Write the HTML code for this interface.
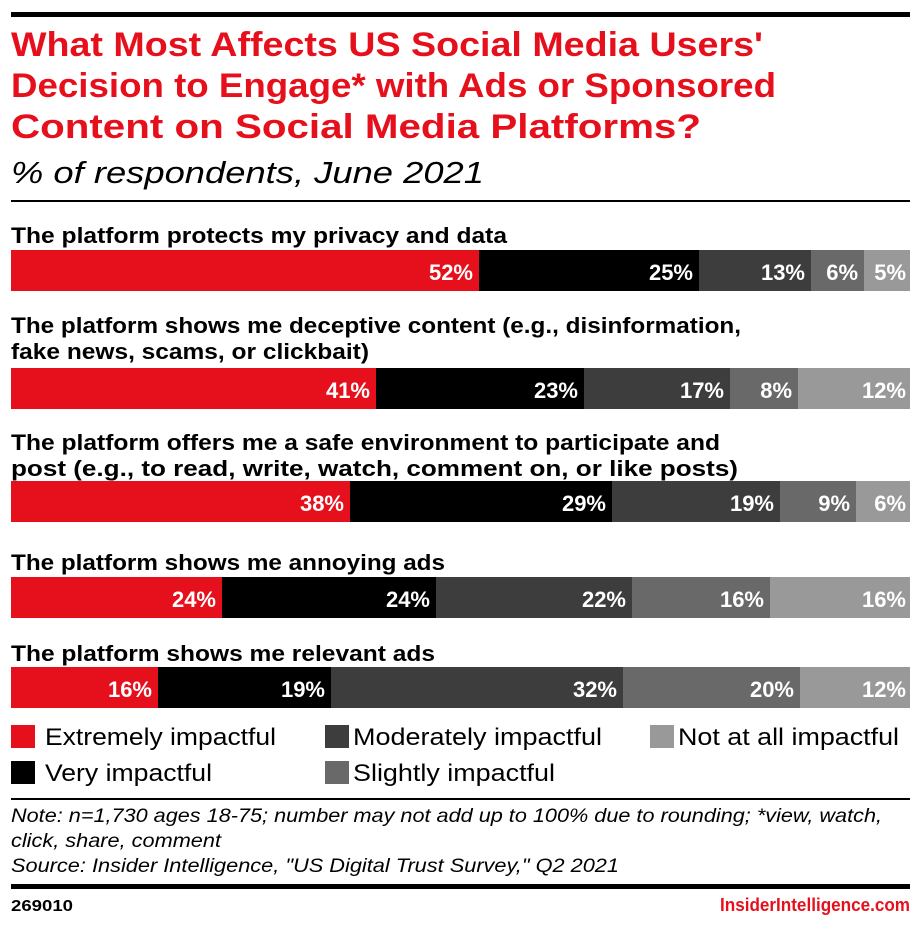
<!DOCTYPE html>
<html><head><meta charset="utf-8"><style>
html,body{margin:0;padding:0;background:#fff;}
svg{display:block;font-family:"Liberation Sans",sans-serif;}
.t{font-weight:bold;fill:#e6101d;font-size:34px;}
.l{font-weight:bold;font-size:22px;fill:#000;}
.p{font-weight:bold;font-size:22px;fill:#fff;text-anchor:end;}
.g{font-size:24px;fill:#000;}
.n{font-style:italic;font-size:19px;fill:#000;}
</style></head><body>
<svg width="922" height="925" viewBox="0 0 922 925" xmlns="http://www.w3.org/2000/svg">
<rect x="11" y="12" width="899" height="5" fill="#000"/>
<text class="t" x="11" y="56" textLength="752" lengthAdjust="spacingAndGlyphs">What Most Affects US Social Media Users'</text>
<text class="t" x="11" y="97" textLength="765" lengthAdjust="spacingAndGlyphs">Decision to Engage* with Ads or Sponsored</text>
<text class="t" x="11" y="138" textLength="690" lengthAdjust="spacingAndGlyphs">Content on Social Media Platforms?</text>
<text x="11" y="183" font-size="31" font-style="italic" textLength="473" lengthAdjust="spacingAndGlyphs">% of respondents, June 2021</text>
<rect x="11" y="200" width="899" height="2" fill="#000"/>

<text class="l" x="11" y="243" textLength="496" lengthAdjust="spacingAndGlyphs">The platform protects my privacy and data</text>
<rect x="11" y="250" width="468" height="41" fill="#e6101d"/><rect x="479" y="250" width="220" height="41" fill="#000"/><rect x="699" y="250" width="112" height="41" fill="#3d3d3d"/><rect x="811" y="250" width="53" height="41" fill="#696969"/><rect x="864" y="250" width="46" height="41" fill="#999"/>
<text class="p" x="473" y="280">52%</text><text class="p" x="693" y="280">25%</text><text class="p" x="805" y="280">13%</text><text class="p" x="858" y="280">6%</text><text class="p" x="906" y="280">5%</text>

<text class="l" x="11" y="333" textLength="730" lengthAdjust="spacingAndGlyphs">The platform shows me deceptive content (e.g., disinformation,</text>
<text class="l" x="11" y="359" textLength="358" lengthAdjust="spacingAndGlyphs">fake news, scams, or clickbait)</text>
<rect x="11" y="368" width="365" height="41" fill="#e6101d"/><rect x="376" y="368" width="208" height="41" fill="#000"/><rect x="584" y="368" width="146" height="41" fill="#3d3d3d"/><rect x="730" y="368" width="68" height="41" fill="#696969"/><rect x="798" y="368" width="112" height="41" fill="#999"/>
<text class="p" x="370" y="398">41%</text><text class="p" x="578" y="398">23%</text><text class="p" x="724" y="398">17%</text><text class="p" x="792" y="398">8%</text><text class="p" x="906" y="398">12%</text>

<text class="l" x="11" y="450" textLength="709" lengthAdjust="spacingAndGlyphs">The platform offers me a safe environment to participate and</text>
<text class="l" x="11" y="476" textLength="727" lengthAdjust="spacingAndGlyphs">post (e.g., to read, write, watch, comment on, or like posts)</text>
<rect x="11" y="481" width="339" height="41" fill="#e6101d"/><rect x="350" y="481" width="262" height="41" fill="#000"/><rect x="612" y="481" width="168" height="41" fill="#3d3d3d"/><rect x="780" y="481" width="76" height="41" fill="#696969"/><rect x="856" y="481" width="54" height="41" fill="#999"/>
<text class="p" x="344" y="511">38%</text><text class="p" x="606" y="511">29%</text><text class="p" x="774" y="511">19%</text><text class="p" x="850" y="511">9%</text><text class="p" x="906" y="511">6%</text>

<text class="l" x="11" y="570" textLength="434" lengthAdjust="spacingAndGlyphs">The platform shows me annoying ads</text>
<rect x="11" y="577" width="211" height="41" fill="#e6101d"/><rect x="222" y="577" width="214" height="41" fill="#000"/><rect x="436" y="577" width="196" height="41" fill="#3d3d3d"/><rect x="632" y="577" width="138" height="41" fill="#696969"/><rect x="770" y="577" width="140" height="41" fill="#999"/>
<text class="p" x="216" y="607">24%</text><text class="p" x="430" y="607">24%</text><text class="p" x="626" y="607">22%</text><text class="p" x="764" y="607">16%</text><text class="p" x="906" y="607">16%</text>

<text class="l" x="11" y="661" textLength="424" lengthAdjust="spacingAndGlyphs">The platform shows me relevant ads</text>
<rect x="11" y="667" width="147" height="41" fill="#e6101d"/><rect x="158" y="667" width="173" height="41" fill="#000"/><rect x="331" y="667" width="292" height="41" fill="#3d3d3d"/><rect x="623" y="667" width="177" height="41" fill="#696969"/><rect x="800" y="667" width="110" height="41" fill="#999"/>
<text class="p" x="152" y="697">16%</text><text class="p" x="325" y="697">19%</text><text class="p" x="617" y="697">32%</text><text class="p" x="794" y="697">20%</text><text class="p" x="906" y="697">12%</text>

<rect x="11" y="725" width="24" height="23" fill="#e6101d"/>
<text class="g" x="45" y="745" textLength="231" lengthAdjust="spacingAndGlyphs">Extremely impactful</text>
<rect x="11" y="761" width="24" height="23" fill="#000"/>
<text class="g" x="45" y="781" textLength="167" lengthAdjust="spacingAndGlyphs">Very impactful</text>
<rect x="325" y="725" width="24" height="23" fill="#3d3d3d"/>
<text class="g" x="353" y="745" textLength="249" lengthAdjust="spacingAndGlyphs">Moderately impactful</text>
<rect x="325" y="761" width="24" height="23" fill="#696969"/>
<text class="g" x="353" y="781" textLength="202" lengthAdjust="spacingAndGlyphs">Slightly impactful</text>
<rect x="650" y="725" width="24" height="23" fill="#999"/>
<text class="g" x="678" y="745" textLength="221" lengthAdjust="spacingAndGlyphs">Not at all impactful</text>

<rect x="11" y="798" width="899" height="2" fill="#000"/>
<text class="n" x="11" y="822" textLength="871" lengthAdjust="spacingAndGlyphs">Note: n=1,730 ages 18-75; number may not add up to 100% due to rounding; *view, watch,</text>
<text class="n" x="11" y="847" textLength="210" lengthAdjust="spacingAndGlyphs">click, share, comment</text>
<text class="n" x="11" y="872" textLength="608" lengthAdjust="spacingAndGlyphs">Source: Insider Intelligence, "US Digital Trust Survey," Q2 2021</text>
<rect x="11" y="884" width="899" height="5" fill="#000"/>
<text x="11" y="911" font-size="16" font-weight="bold" textLength="62" lengthAdjust="spacingAndGlyphs">269010</text>
<text x="910" y="911" font-size="18" font-weight="bold" fill="#e6101d" text-anchor="end" textLength="190" lengthAdjust="spacingAndGlyphs">InsiderIntelligence.com</text>
</svg>
</body></html>
